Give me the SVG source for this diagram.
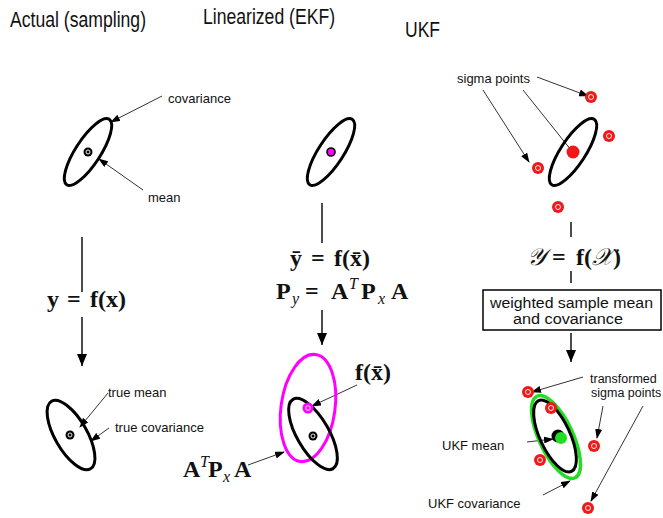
<svg xmlns="http://www.w3.org/2000/svg" width="663" height="518" viewBox="0 0 663 518">
<defs>
<style>
.title{font-family:"Liberation Sans",Arial,sans-serif;font-size:22px;fill:#111}
.lbl{font-family:"Liberation Sans",Arial,sans-serif;font-size:13px;fill:#111}
.sm{font-size:12.5px}
.box{font-family:"Liberation Sans",Arial,sans-serif;font-size:14px;fill:#111}
.m{font-family:"Liberation Serif","Times New Roman",serif;font-size:24px;font-weight:bold;fill:#111}
.mi{font-family:"Liberation Serif","Times New Roman",serif;font-size:16px;font-style:italic;font-weight:normal}
.scr{font-family:"DejaVu Serif","Noto Sans","DejaVu Sans",serif;font-weight:normal;font-style:italic}
.ell{fill:none;stroke:#000;stroke-width:3}
.lead{stroke:#333;stroke-width:1;fill:none}
.flow{stroke:#000;stroke-width:1.4;fill:none}
.red{fill:#f01818}
.ring{fill:none;stroke:#fff;stroke-width:0.9}
</style>
<marker id="ah" markerUnits="userSpaceOnUse" markerWidth="10" markerHeight="7" refX="9" refY="3.5" orient="auto">
<path d="M0,0 L10,3.5 L0,7 z" fill="#000"/>
</marker>
<marker id="fh" markerUnits="userSpaceOnUse" markerWidth="12" markerHeight="10" refX="12" refY="5" orient="auto">
<path d="M0,0 L12,5 L0,10 z" fill="#000"/>
</marker>
</defs>
<rect width="663" height="518" fill="#fff"/>

<g id="connectors">
<line class="lead" x1="162" y1="96" x2="111" y2="122" marker-end="url(#ah)"/>
<line class="lead" x1="143" y1="190" x2="99" y2="159" marker-end="url(#ah)"/>
<line class="flow" x1="82" y1="237" x2="82" y2="292"/>
<line class="flow" x1="82" y1="317" x2="82" y2="366" marker-end="url(#fh)"/>
<line class="lead" x1="108" y1="393" x2="80" y2="427" marker-end="url(#ah)"/>
<line class="lead" x1="109" y1="428" x2="91" y2="441" marker-end="url(#ah)"/>
<line class="flow" x1="322" y1="203" x2="322" y2="243"/>
<line class="flow" x1="322" y1="310" x2="322" y2="345" marker-end="url(#fh)"/>
<line class="lead" x1="357" y1="385" x2="312" y2="406" marker-end="url(#ah)"/>
<line class="lead" x1="248" y1="465" x2="284" y2="452" marker-end="url(#ah)"/>
<line class="lead" x1="537" y1="77" x2="588" y2="96" marker-end="url(#ah)"/>
<line class="lead" x1="483" y1="90" x2="529" y2="162" marker-end="url(#ah)"/>
<line class="lead" x1="523" y1="90" x2="571" y2="150"/>
<line class="flow" x1="571" y1="222" x2="571" y2="237"/>
<line class="flow" x1="571" y1="271" x2="571" y2="283"/>
<line class="flow" x1="571" y1="333" x2="571" y2="362" marker-end="url(#fh)"/>
<line class="lead" x1="583" y1="377" x2="532" y2="392" marker-end="url(#ah)"/>
<line class="lead" x1="603" y1="406" x2="597" y2="438" marker-end="url(#ah)"/>
<line class="lead" x1="643" y1="406" x2="591" y2="501" marker-end="url(#ah)"/>
<line class="lead" x1="527" y1="442" x2="553" y2="439" marker-end="url(#ah)"/>
<line class="lead" x1="543" y1="495" x2="570" y2="481" marker-end="url(#ah)"/>
</g>

<g id="titles">
<text class="title" x="10" y="27" textLength="136" lengthAdjust="spacingAndGlyphs">Actual (sampling)</text>
<text class="title" x="203" y="24" textLength="132" lengthAdjust="spacingAndGlyphs">Linearized (EKF)</text>
<text class="title" x="405" y="37" textLength="35" lengthAdjust="spacingAndGlyphs">UKF</text>
</g>

<g id="actual-prior">
<ellipse class="ell" cx="88" cy="152" rx="12.5" ry="39" transform="rotate(33 88 152)"/>
<circle cx="88" cy="152" r="4.5" fill="#000"/>
<circle class="ring" cx="88" cy="152" r="2"/>
<text class="lbl" x="168" y="103">covariance</text>
<text class="lbl" x="148" y="202">mean</text>
</g>

<g id="actual-eq">
<text class="m" y="307"><tspan x="47">y</tspan><tspan x="67">=</tspan><tspan x="90">f(x)</tspan></text>
</g>

<g id="actual-post">
<ellipse class="ell" cx="71" cy="435" rx="16" ry="39" transform="rotate(-30 71 435)"/>
<circle cx="70" cy="435" r="4.5" fill="#000"/>
<circle class="ring" cx="70" cy="435" r="2"/>
<text class="lbl" x="108" y="397">true mean</text>
<text class="lbl" x="115" y="432">true covariance</text>
</g>

<g id="ekf-prior">
<ellipse class="ell" cx="331" cy="152" rx="12.5" ry="39" transform="rotate(33 331 152)"/>
<circle cx="331" cy="152" r="4" fill="#ff00ff" stroke="#000" stroke-width="1.6"/>
</g>

<g id="ekf-eq">
<text class="m" y="266"><tspan x="290">ȳ</tspan><tspan x="311">=</tspan><tspan x="334">f(x̄)</tspan></text>
<text class="m" y="299"><tspan x="276">P</tspan><tspan class="mi" x="292" dy="5">y</tspan><tspan x="305" dy="-5">=</tspan><tspan x="331">A</tspan><tspan class="mi" x="349" dy="-10">T</tspan><tspan x="361" dy="10">P</tspan><tspan class="mi" x="378" dy="5">x</tspan><tspan x="391" dy="-5">A</tspan></text>
</g>

<g id="ekf-post">
<ellipse cx="308" cy="408" rx="27" ry="54" transform="rotate(8 308 408)" fill="none" stroke="#ff00ff" stroke-width="3"/>
<ellipse class="ell" cx="313" cy="434" rx="16" ry="40" transform="rotate(-30 313 434)"/>
<circle cx="308" cy="408" r="5.5" fill="#ff00ff"/>
<circle class="ring" cx="308" cy="408" r="2.3"/>
<circle cx="313" cy="436" r="4.5" fill="#000"/>
<circle class="ring" cx="313" cy="436" r="2"/>
<text class="m" y="380"><tspan x="355">f(x̄)</tspan></text>
<text class="m" y="477"><tspan x="183">A</tspan><tspan class="mi" x="200" dy="-10">T</tspan><tspan x="208" dy="10">P</tspan><tspan class="mi" x="223" dy="5">x</tspan><tspan x="234" dy="-5">A</tspan></text>
</g>

<g id="ukf-prior">
<ellipse class="ell" cx="573" cy="152" rx="12.5" ry="39" transform="rotate(33 573 152)"/>
<circle class="red" cx="573" cy="152" r="6.5"/>
<circle class="red" cx="591" cy="97" r="6"/><circle class="ring" cx="591" cy="97" r="2.5"/>
<circle class="red" cx="609" cy="136" r="6"/><circle class="ring" cx="609" cy="136" r="2.5"/>
<circle class="red" cx="538" cy="168" r="6"/><circle class="ring" cx="538" cy="168" r="2.5"/>
<circle class="red" cx="558" cy="207" r="6"/><circle class="ring" cx="558" cy="207" r="2.5"/>
<text class="lbl" x="457" y="83">sigma points</text>
</g>

<g id="ukf-eq">
<text class="m" y="265"><tspan class="scr" x="527">𝒴</tspan><tspan x="552">=</tspan><tspan x="576">f(</tspan><tspan class="scr">𝒳</tspan><tspan>)</tspan></text>
</g>

<g id="ukf-box">
<rect x="483" y="290" width="178" height="40" fill="#fff" stroke="#000" stroke-width="1.5"/>
<text class="box" x="490" y="308" textLength="163" lengthAdjust="spacingAndGlyphs">weighted sample mean</text>
<text class="box" x="513" y="324" textLength="110" lengthAdjust="spacingAndGlyphs">and covariance</text>
</g>

<g id="ukf-post">
<ellipse cx="556" cy="437" rx="17" ry="45" transform="rotate(-25 556 437)" fill="none" stroke="#22dd22" stroke-width="3.5"/>
<ellipse class="ell" cx="555" cy="436" rx="15" ry="39" transform="rotate(-25 555 436)"/>
<circle cx="558" cy="436" r="6.5" fill="#000"/>
<circle cx="561" cy="438" r="6" fill="#22dd22"/>
<circle class="red" cx="528" cy="392" r="6"/><circle class="ring" cx="528" cy="392" r="2.5"/>
<circle class="red" cx="551" cy="408" r="6"/><circle class="ring" cx="551" cy="408" r="2.5"/>
<circle class="red" cx="540" cy="460" r="6"/><circle class="ring" cx="540" cy="460" r="2.5"/>
<circle class="red" cx="594" cy="446" r="6"/><circle class="ring" cx="594" cy="446" r="2.5"/>
<circle class="red" cx="588" cy="508" r="6"/><circle class="ring" cx="588" cy="508" r="2.5"/>
<text class="lbl sm" x="590" y="383">transformed</text>
<text class="lbl sm" x="591" y="397">sigma points</text>
<text class="lbl" x="442" y="450">UKF mean</text>
<text class="lbl" x="428" y="508">UKF covariance</text>
</g>
</svg>
